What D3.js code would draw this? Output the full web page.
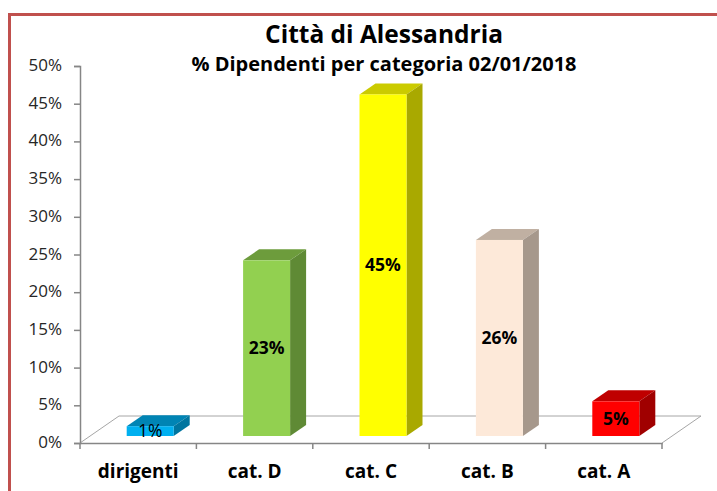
<!DOCTYPE html>
<html>
<head>
<meta charset="utf-8">
<script src="https://cdnjs.cloudflare.com/ajax/libs/d3/7.8.5/d3.min.js"></script>
<style>
  html, body { margin: 0; padding: 0; background: #fff; }
  svg { display: block; }
  text { font-family: 'Open Sans', sans-serif; fill: #000; }
</style>
</head>
<body>
<svg width="717" height="491"></svg>
<script>
const categories = ['dirigenti', 'cat. D', 'cat. C', 'cat. B', 'cat. A'];
const values = [0.013, 0.233, 0.453, 0.26, 0.046];
const frontColors = ['#00b0f0', '#92d050', '#ffff00', '#fde9d9', '#ff0000'];
const topColors = ['#0084b4', '#6d9c3c', '#cbcb00', '#c0b0a2', '#bf0000'];
const sideColors = ['#00759f', '#5f8a35', '#a9a900', '#a6988c', '#a00000'];
const yTicks = [0, 0.05, 0.1, 0.15, 0.2, 0.25, 0.3, 0.35, 0.4, 0.45, 0.5];

const svg = d3.select('svg');
const axisColor = '#868686';

// frame round the chart
svg.append('path')
  .attr('d', 'M9.5,491V14.5H717')
  .attr('fill', 'none')
  .attr('stroke', '#c0504d')
  .attr('stroke-width', 3);

const plotLeft = 80, plotRight = 662;
const yScale = d3.scaleLinear().domain([0, 0.5]).range([443, 66]);
const xScale = d3.scaleBand().domain(categories).range([plotLeft, plotRight]);

// 3d floor: depth offset of the back edge
const floorDx = 39, floorDy = -27;
const barDx = 16, barDy = -11;
const barWidth = 47;
const barBase = 436;

svg.append('path')
  .attr('d', `M${plotLeft},${yScale(0)}l${floorDx},${floorDy}H${plotRight + floorDx}L${plotRight},${yScale(0)}`)
  .attr('fill', 'none')
  .attr('stroke', '#a6a6a6')
  .attr('stroke-width', 1);

const yAxis = d3.axisLeft(yScale)
  .tickValues(yTicks)
  .tickFormat(d3.format('.0%'))
  .tickSize(6)
  .tickPadding(12);
const yAxisG = svg.append('g').attr('transform', `translate(${plotLeft},0)`).call(yAxis);
yAxisG.selectAll('path, line').attr('stroke', axisColor).attr('stroke-width', 1.5);
yAxisG.selectAll('text').attr('dy', '0.27em').style('font-size', '17px').style('fill', '#262626');

const xAxis = d3.axisBottom(xScale)
  .tickSizeInner(0)
  .tickSizeOuter(0)
  .tickPadding(22);
const xAxisG = svg.append('g').attr('transform', `translate(0,${yScale(0)})`).call(xAxis);
xAxisG.select('path').attr('stroke', axisColor).attr('stroke-width', 1.5);
xAxisG.selectAll('text').style('font-size', '19px').style('font-weight', 700);

// tick marks sit between the categories
const edges = categories.map(c => xScale(c)).concat([plotRight]);
svg.append('g').selectAll('line')
  .data(edges).enter()
  .append('line')
    .attr('x1', d => d).attr('x2', d => d)
    .attr('y1', yScale(0)).attr('y2', yScale(0) + 6)
    .attr('stroke', axisColor)
    .attr('stroke-width', 1.5);

const bars = svg.append('g').selectAll('g')
  .data(categories).enter()
  .append('g');

const barLeft = c => xScale(c) + xScale.bandwidth() / 2 - barWidth / 2 + 12;
const valueOf = i => barBase - (yScale(0) - yScale(values[i]));

bars.append('path')   // top face
  .attr('d', (c, i) => `M${barLeft(c)},${valueOf(i)}l${barDx},${barDy}h${barWidth}l${-barDx},${-barDy}z`)
  .attr('fill', (c, i) => topColors[i]);
bars.append('path')   // side face
  .attr('d', (c, i) => `M${barLeft(c) + barWidth},${valueOf(i)}l${barDx},${barDy}V${barBase + barDy}l${-barDx},${-barDy}z`)
  .attr('fill', (c, i) => sideColors[i]);
bars.append('rect')   // front face
  .attr('x', c => barLeft(c))
  .attr('y', (c, i) => valueOf(i))
  .attr('width', barWidth)
  .attr('height', (c, i) => barBase - valueOf(i))
  .attr('fill', (c, i) => frontColors[i]);

bars.append('text')
  .attr('x', c => barLeft(c) + barWidth / 2)
  .attr('y', (c, i) => (valueOf(i) + barBase) / 2 + 6)
  .attr('text-anchor', 'middle')
  .style('font-size', '17.5px')
  .style('font-weight', (c, i) => i === 0 ? 400 : 700)
  .text((c, i) => d3.format('.0%')(values[i]));

svg.append('text')
  .attr('text-anchor', 'middle')
  .attr('x', 384).attr('y', 43)
  .style('font-size', '24.5px')
  .style('font-weight', 700)
  .text('Città di Alessandria');

svg.append('text')
  .attr('text-anchor', 'middle')
  .attr('x', 384).attr('y', 71)
  .style('font-size', '20px')
  .style('font-weight', 700)
  .text('% Dipendenti per categoria 02/01/2018');
</script>
</body>
</html>
